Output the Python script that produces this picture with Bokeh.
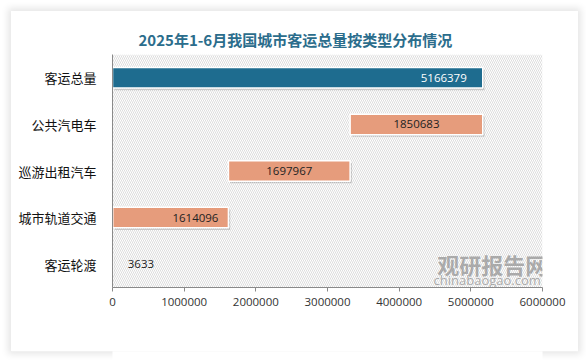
from bokeh.plotting import figure
from bokeh.layouts import column
from bokeh.models import (ColumnDataSource, FactorRange, Range1d, BoxAnnotation, Legend, LegendItem,
                          Label, BasicTickFormatter, FixedTicker)
from bokeh.transform import dodge
from bokeh.core.properties import value
from bokeh.embed import file_html
from bokeh.resources import INLINE

title_text = "2025年1-6月我国城市客运总量按类型分布情况"
categories = ["客运总量", "公共汽电车", "巡游出租汽车", "城市轨道交通", "客运轮渡"]
values = [5166379, 1850683, 1697967, 1614096, 3633]
x_ticks = [0, 1000000, 2000000, 3000000, 4000000, 5000000, 6000000]
series_names = ["城市客运总量当期值（万人）", "细分类型客运量当期值（万人）"]

# waterfall positions derived from the values
total = values[0]
lefts, rights = [0], [total]
cur = total
for v in values[1:]:
    rights.append(cur)
    lefts.append(cur - v)
    cur -= v

BLUE = "#1e6c8f"
ORANGE = "#e69c7c"
CJK = "Noto Sans CJK SC"
NUM = "Open Sans"

p = figure(width=567, height=303, y_range=FactorRange(factors=categories[::-1]),
           x_range=Range1d(0, x_ticks[-1]), output_backend="svg", toolbar_location=None,
           min_border_left=101, min_border_right=36,
           min_border_top=43, min_border_bottom=27)
p.outline_line_color = None
p.background_fill_color = "white"
p.border_fill_color = "white"
p.xgrid.visible = False
p.ygrid.visible = False

# hatched plot background
p.add_layout(BoxAnnotation(fill_color="white", fill_alpha=1.0, line_color=None,
                           hatch_pattern="left_diagonal_line", hatch_color="#d4d4d4",
                           hatch_scale=4, hatch_weight=0.8, level="underlay"))

src_total = ColumnDataSource(dict(cat=categories[:1], left=lefts[:1], right=rights[:1]))
src_sub = ColumnDataSource(dict(cat=categories[1:], left=lefts[1:], right=rights[1:]))
shift = 25000
src_shadow = ColumnDataSource(dict(cat=categories, left=[l + shift for l in lefts],
                                   right=[r + shift for r in rights]))

p.hbar(y=dodge("cat", -0.045, range=p.y_range), left="left", right="right", height=0.44,
       source=src_shadow, fill_color="black", fill_alpha=0.16, line_color=None)
r_total = p.hbar(y="cat", left="left", right="right", height=0.44, source=src_total,
                 fill_color=BLUE, line_color="white", line_width=1.5)
r_sub = p.hbar(y="cat", left="left", right="right", height=0.44, source=src_sub,
               fill_color=ORANGE, line_color="white", line_width=1.5)

# data labels
lab_total = ColumnDataSource(dict(x=rights[:1], y=categories[:1], t=[str(values[0])]))
lab_mid = ColumnDataSource(dict(x=[(l + r) / 2 for l, r in zip(lefts[1:3], rights[1:3])],
                                y=categories[1:3], t=[str(v) for v in values[1:3]]))
lab_end = ColumnDataSource(dict(x=rights[3:4], y=categories[3:4], t=[str(values[3])]))
lab_out = ColumnDataSource(dict(x=rights[4:5], y=categories[4:5], t=[str(values[4])]))
common = dict(text="t", text_font=value(NUM), text_font_size="11.5px", text_baseline="middle")
p.text(x="x", y="y", source=lab_total, text_align="right", x_offset=-16, text_color="white", **common)
p.text(x="x", y="y", source=lab_mid, text_align="center", text_color="#222222", **common)
p.text(x="x", y="y", source=lab_end, text_align="right", x_offset=-10, text_color="#222222", **common)
p.text(x="x", y="y", source=lab_out, text_align="left", x_offset=15, text_color="#222222", **common)

# x axis
xa = p.xaxis[0]
xa.ticker = FixedTicker(ticks=x_ticks)
xa.formatter = BasicTickFormatter(use_scientific=False)
xa.axis_line_color = "#8a8a8a"
xa.major_tick_line_color = "#8a8a8a"
xa.major_tick_in = 0
xa.major_tick_out = 4
xa.minor_tick_line_color = None
xa.major_label_text_font = NUM
xa.major_label_text_font_size = "11.5px"
xa.major_label_text_color = "#333333"
xa.major_label_standoff = 6

# y axis
ya = p.yaxis[0]
ya.axis_line_color = "#8a8a8a"
ya.major_tick_line_color = None
ya.major_label_text_font = CJK
ya.major_label_text_font_size = "13px"
ya.major_label_text_color = "#111111"
ya.major_label_standoff = 10

# title
p.title.text = title_text
p.title.align = "left"
p.title.offset = 26
p.title.text_font = CJK
p.title.text_font_style = "bold"
p.title.text_font_size = "15px"
p.title.text_color = "#2b6d8c"

# watermark
p.add_layout(Label(x=4.53e6, y=0.515, text="观研报告网", text_font=CJK, text_font_style="bold",
                   text_font_size="22px", text_color="#8c8c8c", text_alpha=0.7,
                   text_baseline="middle"))
p.add_layout(Label(x=4.48e6, y=0.17, text="chinabaogao.com", text_font=NUM,
                   text_font_size="13px", text_color="#8c8c8c", text_alpha=0.7,
                   text_baseline="middle"))

# legend strip below the chart (legend proxies are zero-width bars)
lf = figure(width=567, height=37, x_range=Range1d(0, 1), y_range=Range1d(0, 1),
            output_backend="svg", toolbar_location=None, min_border=0,
            x_axis_location=None, y_axis_location=None)
lf.outline_line_color = None
lf.border_fill_color = "white"
lf.background_fill_color = "white"
lf.xgrid.visible = False
lf.ygrid.visible = False
proxy = ColumnDataSource(dict(y=[0.5], left=[0], right=[0]))
g1 = lf.hbar(y="y", left="left", right="right", height=0.44, source=proxy,
             fill_color=BLUE, line_color=None)
g2 = lf.hbar(y="y", left="left", right="right", height=0.44, source=proxy,
             fill_color=ORANGE, line_color=None)
legend = Legend(items=[LegendItem(label=series_names[0], renderers=[g1]),
                       LegendItem(label=series_names[1], renderers=[g2])],
                orientation="horizontal", location="center",
                border_line_color="#d9d9d9", border_line_width=1,
                background_fill_color="white", padding=5, spacing=37, margin=5,
                glyph_width=7, glyph_height=7, label_standoff=4,
                label_text_font=CJK, label_text_font_size="12.5px", label_text_color="#222222",
                label_height=14)
lf.add_layout(legend, "above")

page = column(p, lf, spacing=0,
              styles={"box-shadow": "0 0 7px 3px rgba(0,0,0,0.10)", "margin": "11px 0 0 11px",
                      "background-color": "white"})

open("out.html", "w").write(file_html(page, INLINE))
